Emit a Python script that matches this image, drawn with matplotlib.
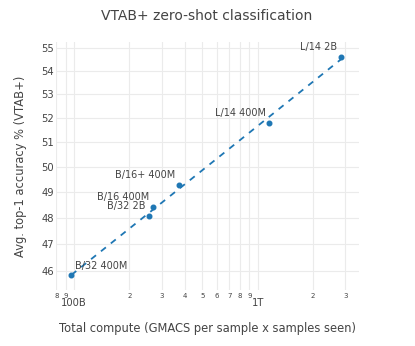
#!/usr/bin/env python3
import numpy as np
import matplotlib
matplotlib.use("Agg")
import matplotlib.pyplot as plt
from matplotlib.ticker import NullFormatter

"""
VTAB+ zero-shot accuracy vs total compute, log-log with a power-law fit
"""

models = ["B/32 400M", "B/32 2B", "B/16 400M", "B/16+ 400M", "L/14 400M", "L/14 2B"]
compute = [0.966e11, 2.57e11, 2.69e11, 3.72e11, 1.153e12, 2.84e12]
accuracy = [45.83, 48.07, 48.42, 49.30, 51.80, 54.63]
label_side = ["right", "left", "left", "left", "left", "left"]

major_ticks = [1e11, 1e12]
major_labels = ["100B", "1T"]
minor_ticks = [8e10, 9e10, 2e11, 3e11, 4e11, 5e11, 6e11, 7e11, 8e11, 9e11, 2e12, 3e12]
minor_labels = ["8", "9", "2", "3", "4", "5", "6", "7", "8", "9", "2", "3"]
y_ticks = [46, 47, 48, 49, 50, 51, 52, 53, 54, 55]

plt.rcParams["font.family"] = ["DejaVu Sans"]
text_color = "#444444"
blue = "#1f77b4"

fig = plt.figure(figsize=(4.15, 3.46), dpi=100)
ax = fig.add_axes([56 / 415, 1 - 290 / 346, 303 / 415, 248 / 346])

# power-law fit in log-log space
lx = np.log10(compute)
ly = np.log10(accuracy)
slope, icpt = np.polyfit(lx, ly, 1)
xs = np.logspace(lx.min(), lx.max(), 50)
ax.plot(xs, 10 ** (icpt + slope * np.log10(xs)), color=blue, lw=1.3,
        dashes=(3.5, 3.5), zorder=3)
ax.plot(compute, accuracy, "o", color=blue, ms=3.3, zorder=4)

for name, x, y, side in zip(models, compute, accuracy, label_side):
    dx = 2.5 if side == "right" else -2.5
    ax.annotate(name, (x, y), xytext=(dx, 7), textcoords="offset points",
                ha="left" if side == "right" else "right", va="center",
                fontsize=7, color=text_color)

ax.set_xscale("log")
ax.set_yscale("log")
ax.set_xlim(7.97e10, 3.56e12)
ax.set_ylim(45.30, 55.27)

ax.set_xticks(major_ticks)
ax.set_xticklabels(major_labels)
ax.set_xticks(minor_ticks, minor=True)
ax.set_xticklabels(minor_labels, minor=True)
ax.set_yticks(y_ticks)
ax.set_yticklabels([str(v) for v in y_ticks])
ax.yaxis.set_minor_formatter(NullFormatter())
ax.yaxis.set_minor_locator(plt.NullLocator())

ax.tick_params(axis="x", which="major", length=0, pad=6, labelsize=7.2,
               labelcolor=text_color)
ax.tick_params(axis="x", which="minor", length=0, pad=2, labelsize=5,
               labelcolor=text_color)
ax.tick_params(axis="y", length=0, pad=1.5, labelsize=7.2, labelcolor=text_color)

ax.grid(True, which="both", color="#ebebeb", lw=0.8)
ax.set_axisbelow(True)
for s in ax.spines.values():
    s.set_visible(False)

ax.set_xlabel("Total compute (GMACS per sample x samples seen)", fontsize=8.3,
              color=text_color, labelpad=10)
ax.set_ylabel("Avg. top-1 accuracy % (VTAB+)", fontsize=8.3, color=text_color,
              labelpad=10)
fig.text(207 / 415, 1 - 16 / 346, "VTAB+ zero-shot classification",
         ha="center", va="center", fontsize=10, color=text_color)

fig.savefig("out.png", dpi=100)
